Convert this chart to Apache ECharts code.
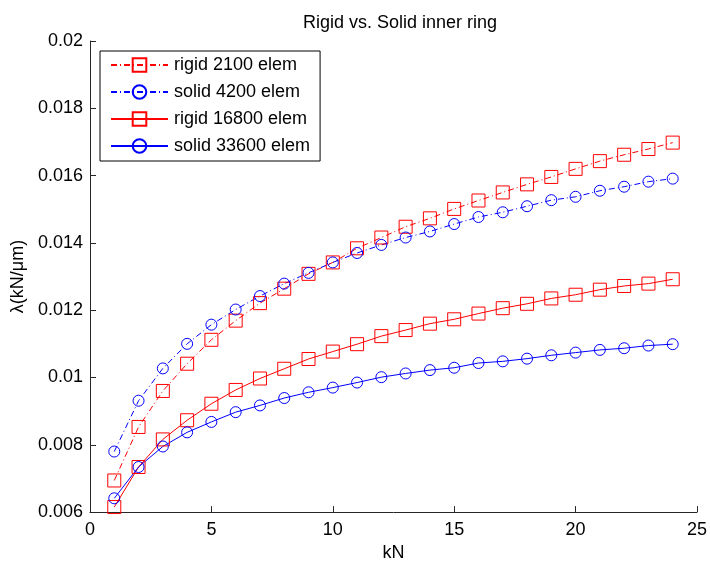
<!DOCTYPE html>
<html>
<head>
<meta charset="utf-8">
<script src="https://cdn.jsdelivr.net/npm/echarts@6/dist/echarts.min.js"></script>
<style>
  html, body { margin: 0; padding: 0; background: #fff; }
  #chart { width: 710px; height: 567px; }
</style>
</head>
<body>
<div id="chart"></div>
<script>
// Load steps (kN)
const loads = [1, 2, 3, 4, 5, 6, 7, 8, 9, 10, 11, 12, 13, 14, 15, 16, 17, 18, 19, 20, 21, 22, 23, 24];

// Stiffness λ (kN/μm) per mesh
const rigid2100 = [0.00694, 0.00853, 0.00960, 0.01041, 0.01112, 0.01169, 0.01221, 0.01264, 0.01308, 0.01342,
  0.01384, 0.01416, 0.01448, 0.01473, 0.01501, 0.01526, 0.01550, 0.01574, 0.01596, 0.01620,
  0.01643, 0.01662, 0.01679, 0.01698];
const solid4200 = [0.00780, 0.00931, 0.01027, 0.01100, 0.01157, 0.01202, 0.01242, 0.01279, 0.01311, 0.01342,
  0.01370, 0.01394, 0.01416, 0.01434, 0.01456, 0.01477, 0.01491, 0.01509, 0.01527, 0.01537,
  0.01555, 0.01567, 0.01582, 0.01591];
const rigid16800 = [0.00615, 0.00734, 0.00816, 0.00873, 0.00922, 0.00963, 0.00997, 0.01026, 0.01055, 0.01077,
  0.01099, 0.01123, 0.01141, 0.01160, 0.01173, 0.01190, 0.01206, 0.01219, 0.01235, 0.01246,
  0.01261, 0.01272, 0.01279, 0.01292];
const solid33600 = [0.00641, 0.00734, 0.00795, 0.00837, 0.00868, 0.00897, 0.00917, 0.00939, 0.00956, 0.00970,
  0.00985, 0.01001, 0.01012, 0.01022, 0.01029, 0.01043, 0.01048, 0.01056, 0.01066, 0.01074,
  0.01082, 0.01087, 0.01095, 0.01099];

const seriesNames = ['rigid 2100 elem', 'solid 4200 elem', 'rigid 16800 elem', 'solid 33600 elem'];

const FONT = "'Liberation Sans', Arial, Helvetica, sans-serif";
const FS = 18;
const RED = '#ff0000';
const BLUE = '#0000ff';
const DASH_DOT = [6, 3, 1, 3];

function pairs(ys) {
  return loads.map((x, i) => [x, ys[i]]);
}

function makeSeries(name, ys, color, marker, size, dashed) {
  return {
    name: name,
    type: 'line',
    data: pairs(ys),
    symbol: marker,
    symbolSize: size,
    showAllSymbol: true,
    lineStyle: { color: color, width: 1, type: dashed ? DASH_DOT : 'solid' },
    itemStyle: { color: 'rgba(0,0,0,0)', borderColor: color, borderWidth: 1 },
    emphasis: { disabled: true },
    z: 2
  };
}

const chart = echarts.init(document.getElementById('chart'), null, { renderer: 'canvas' });

chart.setOption({
  animation: false,
  backgroundColor: '#fff',
  title: {
    text: 'Rigid vs. Solid inner ring',
    left: 395,
    top: 9,
    textAlign: 'center',
    textStyle: { fontFamily: FONT, fontSize: FS, fontWeight: 'normal', color: '#000' }
  },
  grid: { left: 90, right: 10, top: 41, bottom: 47, containLabel: false },
  legend: {
    orient: 'vertical',
    left: 100,
    top: 51,
    data: seriesNames,
    itemWidth: 57,
    itemHeight: 17,
    itemGap: 9,
    padding: [5, 10, 6, 10],
    borderColor: '#000',
    borderWidth: 1,
    backgroundColor: '#fff',
    textStyle: { fontFamily: FONT, fontSize: FS, color: '#000', padding: [0, 0, 0, 1] },
    selectedMode: false
  },
  xAxis: {
    type: 'value',
    min: 0,
    max: 25,
    interval: 5,
    name: 'kN',
    nameLocation: 'middle',
    nameGap: 29,
    nameTextStyle: { fontFamily: FONT, fontSize: FS, color: '#000' },
    axisLine: { show: true, lineStyle: { color: '#262626', width: 1 } },
    axisTick: { show: true, inside: true, length: 6, lineStyle: { color: '#262626' } },
    axisLabel: { fontFamily: FONT, fontSize: FS, color: '#000', margin: 9 },
    splitLine: { show: false }
  },
  yAxis: {
    type: 'value',
    min: 0.006,
    max: 0.02,
    interval: 0.002,
    name: 'λ(kN/μm)',
    nameLocation: 'middle',
    nameGap: 63,
    nameTextStyle: { fontFamily: FONT, fontSize: FS, color: '#000' },
    axisLine: { show: true, lineStyle: { color: '#262626', width: 1 } },
    axisTick: { show: true, inside: true, length: 6, lineStyle: { color: '#262626' } },
    axisLabel: {
      fontFamily: FONT, fontSize: FS, color: '#000', margin: 7,
      formatter: v => String(parseFloat(v.toFixed(4)))
    },
    splitLine: { show: false }
  },
  series: [
    makeSeries(seriesNames[0], rigid2100, RED, 'rect', 13, true),
    makeSeries(seriesNames[1], solid4200, BLUE, 'circle', 11, true),
    makeSeries(seriesNames[2], rigid16800, RED, 'rect', 13, false),
    makeSeries(seriesNames[3], solid33600, BLUE, 'circle', 11, false)
  ]
});
</script>
</body>
</html>
